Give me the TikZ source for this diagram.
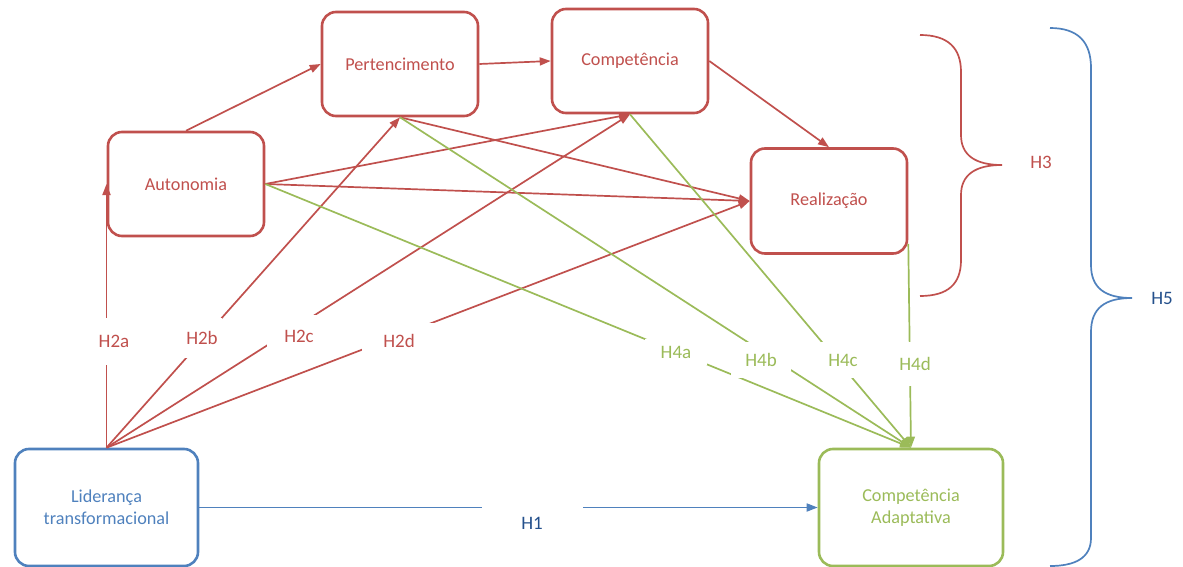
\documentclass[tikz,border=0pt]{standalone}
\usepackage{fontspec}
\setmainfont{Carlito}
\usetikzlibrary{arrows.meta}
\definecolor{rd}{RGB}{192,80,77}
\definecolor{bl}{RGB}{79,129,189}
\definecolor{gr}{RGB}{155,187,89}
\definecolor{dbl}{RGB}{36,80,140}

\begin{document}
\begin{tikzpicture}[x=1pt,y=-1pt,
  box/.style={draw, line width=2.6pt, rounded corners=14pt, minimum width=156pt,
    minimum height=104pt, align=center, inner sep=0pt,
    font=\fontsize{18.2}{22}\selectfont},
  redbox/.style={box, draw=rd, text=rd},
  link/.style={line width=1.7pt, -{Triangle[length=11pt,width=8pt]}},
  hl/.style={fill=white, inner sep=0pt, font=\fontsize{19}{22}\selectfont},
  brace/.style={line width=1.7pt}
]
\useasboundingbox (0,0) rectangle (1183,567);

% construct boxes
\node[redbox] (auto) at (186,184) {Autonomia};
\node[redbox] (pert) at (400,64) {Pertencimento};
\node[redbox] (comp) at (630,61) {Competência};
\node[redbox, minimum height=105pt] (real) at (829,201) {Realização};
\node[box, draw=bl, text=bl, minimum width=183pt, minimum height=117pt] (lid)
  at (106.5,507.5) {Liderança\\transformacional};
\node[box, draw=gr, text=gr, minimum width=184pt, minimum height=117pt] (ca)
  at (911,507.5) {Competência\\Adaptativa};

% paths among the needs
\draw[link, rd] (auto.north) -- (pert.west);
\draw[link, rd] (pert.east) -- (comp.west);
\draw[link, rd] (comp.east) -- (real.north);
\draw[link, rd] (auto.east) -- (comp.south);
\draw[link, rd] (auto.east) -- (real.west);
\draw[link, rd] (pert.south) -- (real.west);

% leadership to the needs (H2)
\draw[link, rd] (lid.north) -- (lid.north |- auto.west);
\draw[link, rd] (lid.north) -- (pert.south);
\draw[link, rd] (lid.north) -- (comp.south);
\draw[link, rd] (lid.north) -- (real.west);

% needs to adaptive competence (H4)
\draw[link, gr] (auto.east) -- (ca.north);
\draw[link, gr] (pert.south) -- (ca.north);
\draw[link, gr] (comp.south) -- (ca.north);
\draw[link, gr] ([yshift=11pt]real.south east) -- (ca.north);

% direct effect (H1)
\draw[link, bl] (lid.east) -- (ca.west);

% hypothesis labels
\node[hl, text=rd, minimum width=40pt, minimum height=47pt] (h2a) at (114,341) {H2a};
\node[hl, text=rd, minimum width=40pt, minimum height=40pt] (h2b) at (202,338) {H2b};
\node[hl, text=rd, minimum width=64pt, minimum height=42pt] (h2c) at (299,336) {H2c};
\node[hl, text=rd, minimum width=74pt, minimum height=36pt] (h2d) at (399,341) {H2d};
\node[hl, text=gr, minimum width=62pt, minimum height=26pt] (h4a) at (676,352) {H4a};
\node[hl, text=gr, minimum width=60pt, minimum height=36pt] (h4b) at (761,360) {H4b};
\node[hl, text=gr, minimum width=46pt, minimum height=36pt] (h4c) at (843,360) {H4c};
\node[hl, text=gr, minimum width=40pt, minimum height=44pt] (h4d) at (915,364) {H4d};
\node[hl, text=dbl, minimum width=101pt, minimum height=50pt] (h1) at (532,523) {H1};

% braces
\draw[rd, brace] (920,35) .. controls (948,35) and (961,48) .. (961,72) -- (961,135)
  .. controls (961,155) and (975,165) .. (1002,165)
  .. controls (975,165) and (961,175) .. (961,195) -- (961,260)
  .. controls (961,284) and (948,296) .. (920,296);
\node[hl, text=rd] (h3) at (1041,162) {H3};

\draw[bl, brace] (1050,28) .. controls (1078,28) and (1091,42) .. (1091,68) -- (1091,265)
  .. controls (1091,288) and (1105,298) .. (1132,298)
  .. controls (1105,298) and (1091,308) .. (1091,332) -- (1091,538)
  .. controls (1091,558) and (1075,566) .. (1050,566);
\node[hl, text=dbl] (h5) at (1162,298) {H5};
\end{tikzpicture}
\end{document}
